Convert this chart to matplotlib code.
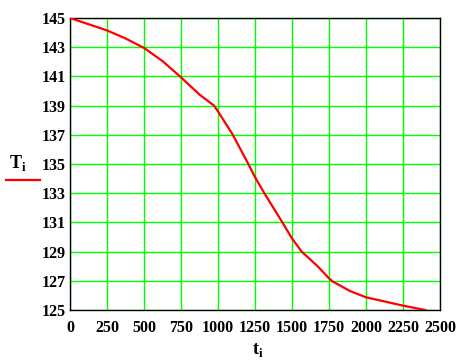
import numpy as np
import matplotlib
matplotlib.use('Agg')
import matplotlib.pyplot as plt
from matplotlib.lines import Line2D

plt.rcParams['mathtext.fontset'] = 'custom'
plt.rcParams['mathtext.rm'] = 'Liberation Serif'
plt.rcParams['mathtext.bf'] = 'Liberation Serif:bold'

# 读取的曲线数据
t_vals = [0, 250, 375, 500, 625, 743, 878, 973, 1000, 1100, 1205, 1250, 1313,
          1435, 1500, 1565, 1673, 1750, 1775, 1892, 2000, 2250, 2400]
T_vals = [145.0, 144.15, 143.6, 142.95, 142.05, 141.0, 139.73, 139.0, 138.6,
          137.0, 135.0, 134.1, 133.0, 131.0, 129.9, 129.0, 128.0, 127.17,
          126.95, 126.3, 125.87, 125.3, 125.0]
x_ticks = np.arange(0, 2501, 250)
y_ticks = np.arange(125, 146, 2)

W, H = 471, 361
fig = plt.figure(figsize=(W / 100, H / 100), dpi=100)
ax = fig.add_axes([70 / W, (H - 310) / H, 370 / W, 292 / H])

font = {'family': 'Liberation Serif', 'weight': 'bold', 'size': 11.5}

ax.plot(t_vals, T_vals, color='#ff0000', linewidth=1.6, zorder=3)
ax.set_xlim(0, 2500)
ax.set_ylim(125, 145)
ax.set_xticks(x_ticks)
ax.set_yticks(y_ticks)
ax.set_xticklabels([str(v) for v in x_ticks], fontdict=font)
ax.set_yticklabels([str(v) for v in y_ticks], fontdict=font)
ax.tick_params(length=0)
ax.tick_params(axis='x', pad=7)
ax.tick_params(axis='y', pad=3)
ax.grid(True, color='#00ff00', linewidth=1.0)
ax.set_axisbelow(True)
for s in ax.spines.values():
    s.set_linewidth(1.0)
    s.set_color('black')

# 坐标轴标签（Mathcad风格）
fig.text(258 / W, 1 - 350 / H, r'$\mathbf{t}_{\mathbf{i}}$', ha='center', va='center',
         fontsize=13)
fig.text(18 / W, 1 - 163 / H, r'$\mathbf{T}_{\mathbf{i}}$', ha='center', va='center',
         fontsize=13)
fig.add_artist(Line2D([6 / W, 40 / W], [1 - 180 / H, 1 - 180 / H],
                      color='#ff0000', linewidth=1.6, transform=fig.transFigure))

fig.savefig('out.png', dpi=100)
